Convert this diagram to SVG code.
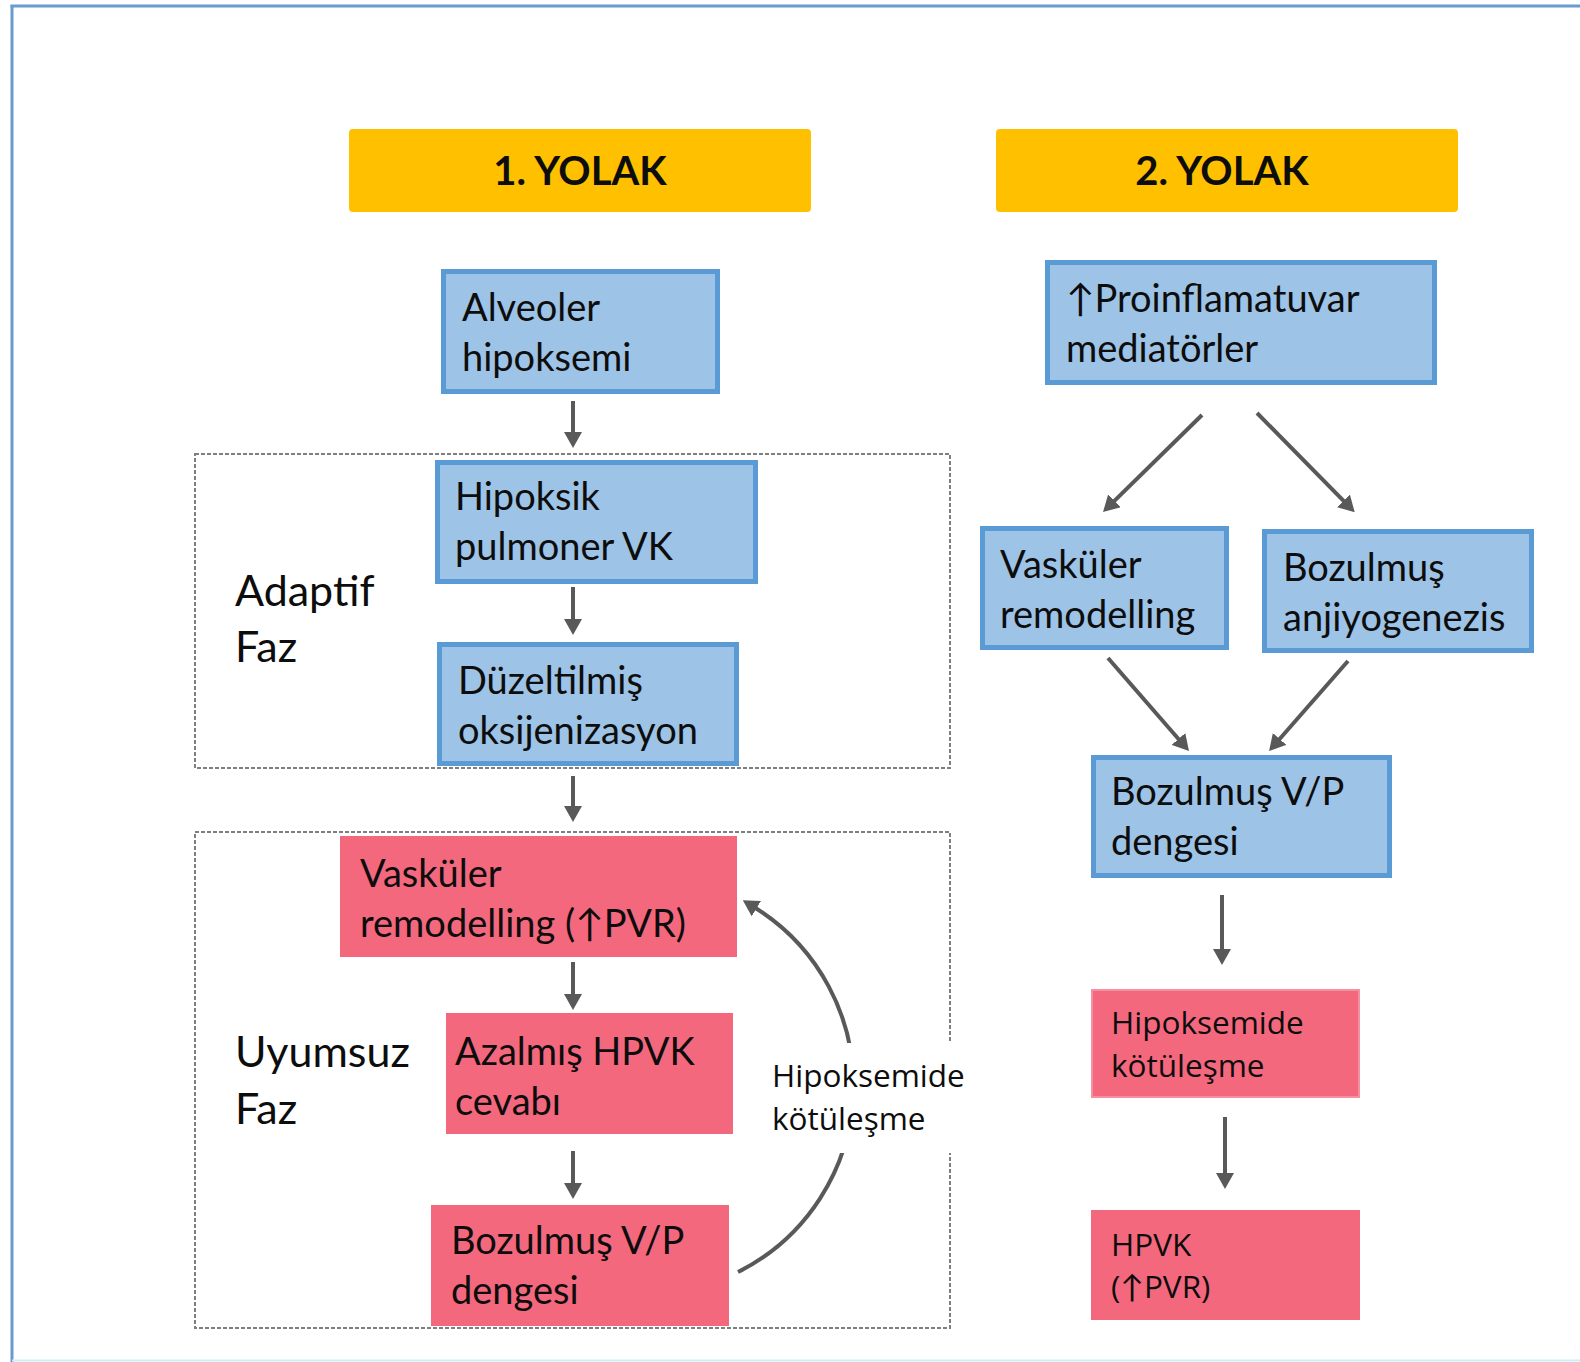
<svg xmlns="http://www.w3.org/2000/svg" width="1580" height="1362" viewBox="0 0 1580 1362">
  <defs>
    <style>
      .hdr { fill: #ffc000; }
      .hdr-t { font-family: Lato, "Liberation Sans", sans-serif; font-weight: 700; font-size: 40px; fill: #0d0d0d; text-anchor: middle; }
      .blue { fill: #9dc3e6; stroke: #5b9bd5; stroke-width: 5; }
      .pink { fill: #f4687e; }
      .t { font-family: Lato, sans-serif; font-size: 38px; fill: #0d0d0d; }
      .phase { font-family: Lato, sans-serif; font-size: 43px; fill: #0d0d0d; }
      .s { font-family: "Open Sans", "Noto Sans", sans-serif; font-size: 31.5px; fill: #0d0d0d; }
      .sym { font-family: Lato, sans-serif; }
      .dash { fill: none; stroke: #7f7f7f; stroke-width: 2; stroke-dasharray: 4 2; }
      .arr { fill: none; stroke: #595959; stroke-width: 4; marker-end: url(#head); }
    </style>
    <marker id="head" viewBox="0 0 16 18" refX="4" refY="9" markerWidth="16" markerHeight="18" markerUnits="userSpaceOnUse" orient="auto">
      <path d="M0,0 L16,9 L0,18 z" fill="#595959"/>
    </marker>
  </defs>

  <rect width="1580" height="1362" fill="#ffffff"/>

  <!-- frame -->
  <g id="frame">
    <line x1="10.5" y1="6" x2="1580" y2="6" stroke="#6a9bd0" stroke-width="3"/>
    <line x1="12" y1="5" x2="12" y2="1362" stroke="#6a9bd0" stroke-width="3"/>
    <line x1="12" y1="1360.5" x2="1580" y2="1360.5" stroke="#cdeff8" stroke-width="2"/>
  </g>

  <!-- phase regions -->
  <g id="phase-adaptive">
    <rect class="dash" x="195" y="454" width="755" height="314"/>
    <text class="phase" x="235" y="606">Adaptif</text>
    <text class="phase" x="235" y="662">Faz</text>
  </g>
  <g id="phase-maladaptive">
    <rect class="dash" x="195" y="832" width="755" height="496"/>
    <text class="phase" x="235" y="1067">Uyumsuz</text>
    <text class="phase" x="235" y="1124">Faz</text>
  </g>

  <!-- headers -->
  <g id="header-1">
    <rect class="hdr" x="349" y="129" width="462" height="83" rx="4"/>
    <text class="hdr-t" x="580" y="185">1. YOLAK</text>
  </g>
  <g id="header-2">
    <rect class="hdr" x="996" y="129" width="462" height="83" rx="4"/>
    <text class="hdr-t" x="1222" y="185">2. YOLAK</text>
  </g>

  <!-- connectors -->
  <g id="connectors">
    <line class="arr" x1="573" y1="401" x2="573" y2="436"/>
    <line class="arr" x1="573" y1="587" x2="573" y2="623"/>
    <line class="arr" x1="573" y1="776" x2="573" y2="810"/>
    <line class="arr" x1="573" y1="962" x2="573" y2="998"/>
    <line class="arr" x1="573" y1="1151" x2="573" y2="1187"/>
    <path class="arr" d="M738,1272 A209,209 0 0 0 753,906.5"/>

    <line class="arr" x1="1202" y1="415" x2="1111.6" y2="503.6"/>
    <line class="arr" x1="1257" y1="413" x2="1346.3" y2="503.7"/>
    <line class="arr" x1="1108" y1="658" x2="1181.1" y2="742"/>
    <line class="arr" x1="1348" y1="661" x2="1277" y2="742"/>
    <line class="arr" x1="1222" y1="895" x2="1222" y2="953"/>
    <line class="arr" x1="1225" y1="1117" x2="1225" y2="1177"/>
  </g>

  <!-- loop label, masks the arc and the region edge behind it -->
  <g id="loop-label">
    <rect x="760" y="1043" width="208" height="110" fill="#ffffff"/>
    <text class="s" x="772" y="1087">Hipoksemide</text>
    <text class="s" x="772" y="1130">kötüleşme</text>
  </g>

  <!-- pathway 1 -->
  <g id="alveoler-hipoksemi">
    <rect class="blue" x="443.5" y="271.5" width="274" height="120"/>
    <text class="t" x="462" y="321">Alveoler</text>
    <text class="t" x="462" y="371">hipoksemi</text>
  </g>
  <g id="hipoksik-pulmoner-vk">
    <rect class="blue" x="437.5" y="462.5" width="318" height="119"/>
    <text class="t" x="455" y="510">Hipoksik</text>
    <text class="t" x="455" y="560">pulmoner VK</text>
  </g>
  <g id="duzeltilmis-oksijenizasyon">
    <rect class="blue" x="439.5" y="644.5" width="297" height="119"/>
    <text class="t" x="458" y="694">Düzeltilmiş</text>
    <text class="t" x="458" y="744">oksijenizasyon</text>
  </g>
  <g id="vaskuler-remodelling-1">
    <rect class="pink" x="340" y="836" width="397" height="121"/>
    <text class="t" x="360" y="887">Vasküler</text>
    <text class="t" x="360" y="937">remodelling (↑PVR)</text>
  </g>
  <g id="azalmis-hpvk">
    <rect class="pink" x="446" y="1013" width="287" height="121"/>
    <text class="t" x="455" y="1065">Azalmış HPVK</text>
    <text class="t" x="455" y="1115">cevabı</text>
  </g>
  <g id="bozulmus-vp-1">
    <rect class="pink" x="431" y="1205" width="298" height="121"/>
    <text class="t" x="451" y="1254">Bozulmuş V/P</text>
    <text class="t" x="451" y="1304">dengesi</text>
  </g>

  <!-- pathway 2 -->
  <g id="proinflamatuvar">
    <rect class="blue" x="1047.5" y="262.5" width="387" height="120"/>
    <text class="t" x="1066" y="312">↑Proinflamatuvar</text>
    <text class="t" x="1066" y="362">mediatörler</text>
  </g>
  <g id="vaskuler-remodelling-2">
    <rect class="blue" x="982.5" y="528.5" width="244" height="119"/>
    <text class="t" x="1000" y="578">Vasküler</text>
    <text class="t" x="1000" y="628">remodelling</text>
  </g>
  <g id="bozulmus-anjiyogenezis">
    <rect class="blue" x="1264.5" y="531.5" width="267" height="119"/>
    <text class="t" x="1283" y="581">Bozulmuş</text>
    <text class="t" x="1283" y="631">anjiyogenezis</text>
  </g>
  <g id="bozulmus-vp-2">
    <rect class="blue" x="1093.5" y="757.5" width="296" height="118"/>
    <text class="t" x="1111" y="805">Bozulmuş V/P</text>
    <text class="t" x="1111" y="855">dengesi</text>
  </g>
  <g id="hipoksemide-kotulesme">
    <rect class="pink" x="1092" y="990" width="267" height="107" stroke="#f590a0" stroke-width="2"/>
    <text class="s" x="1111" y="1034">Hipoksemide</text>
    <text class="s" x="1111" y="1077">kötüleşme</text>
  </g>
  <g id="hpvk-pvr">
    <rect class="pink" x="1091" y="1210" width="269" height="110"/>
    <text class="s" x="1111" y="1256">HPVK</text>
    <text class="s" x="1111" y="1298">(<tspan class="sym">↑</tspan>PVR)</text>
  </g>
</svg>
